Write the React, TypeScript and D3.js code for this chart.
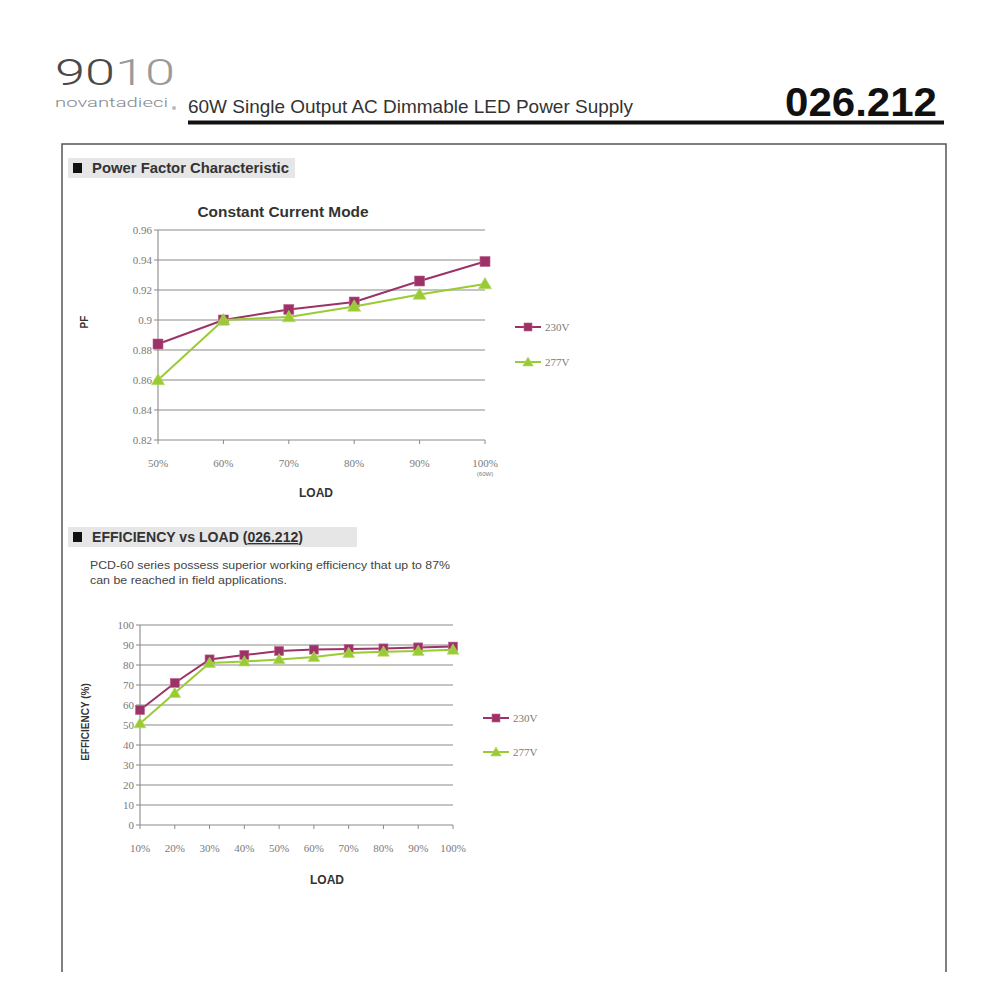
import * as d3 from "d3";

const pfLoads = ["50%", "60%", "70%", "80%", "90%", "100%"];
const pf230 = [0.884, 0.9, 0.907, 0.912, 0.926, 0.939];
const pf277 = [0.86, 0.9, 0.902, 0.909, 0.917, 0.924];
const pfTicks = [0.82, 0.84, 0.86, 0.88, 0.9, 0.92, 0.94, 0.96];

const effLoads = ["10%", "20%", "30%", "40%", "50%", "60%", "70%", "80%", "90%", "100%"];
const eff230 = [57.5, 71, 82.8, 85, 87, 87.7, 88, 88.3, 88.8, 89.2];
const eff277 = [50.8, 66, 81, 81.7, 82.8, 84, 86, 86.6, 87, 87.6];
const effTicks = [0, 10, 20, 30, 40, 50, 60, 70, 80, 90, 100];

const seriesNames = ["230V", "277V"];

const C230 = "#9c3366";
const C277 = "#9acb34";
const GRID = "#8a8a8a";
const TICK_FONT = "'Liberation Serif', 'DejaVu Serif', serif";
const SANS = "'Liberation Sans', Arial, sans-serif";
const LOGO = "Roboto, 'Liberation Sans', sans-serif";

type Box = { x0: number; x1: number; y0: number; y1: number };

const Marker = ({ kind, x, y, size }: { kind: number; x: number; y: number; size: number }) => {
  if (kind === 0) {
    return (
      <rect x={x - size / 2} y={y - size / 2} width={size} height={size} fill={C230} stroke="#c06090" strokeWidth={0.6} />
    );
  }
  const path = d3.symbol(d3.symbolTriangle, size * size * 0.75)();
  return <path d={path || undefined} transform={`translate(${x},${y + 1})`} fill={C277} stroke="#b5dc6a" strokeWidth={0.6} />;
};

type ChartProps = {
  box: Box;
  loads: string[];
  domain: [number, number];
  ticks: number[];
  series: number[][];
  fmt: (v: number) => string;
  markerSize: number;
  legendX: number;
  legendY: number[];
  footnote?: string;
};

const LineChart = ({ box, loads, domain, ticks, series, fmt, markerSize, legendX, legendY, footnote }: ChartProps) => {
  const x = d3.scalePoint<string>().domain(loads).range([box.x0, box.x1]);
  const y = d3.scaleLinear().domain(domain).range([box.y1, box.y0]);
  const line = d3
    .line<number>()
    .x((_, i) => x(loads[i]) ?? 0)
    .y((d) => y(d));
  const colors = [C230, C277];

  return (
    <g>
      {ticks.map((t) => (
        <g key={t}>
          {t !== domain[0] && <line x1={box.x0} x2={box.x1} y1={y(t)} y2={y(t)} stroke={GRID} strokeWidth={1.1} />}
          <line x1={box.x0 - 4} x2={box.x0} y1={y(t)} y2={y(t)} stroke={GRID} strokeWidth={1} />
          <text x={box.x0 - 6} y={y(t) + 3.5} textAnchor="end" fontSize={11} fill="#7a7a7a" fontFamily={TICK_FONT}>
            {fmt(t)}
          </text>
        </g>
      ))}
      <line x1={box.x0} x2={box.x0} y1={box.y0} y2={box.y1} stroke={GRID} strokeWidth={1.1} />
      <line x1={box.x0} x2={box.x1} y1={box.y1} y2={box.y1} stroke={GRID} strokeWidth={1.1} />
      {loads.map((l, i) => (
        <g key={l}>
          <line x1={x(l)} x2={x(l)} y1={box.y1} y2={box.y1 + 4} stroke={GRID} strokeWidth={1} />
          <text x={x(l)} y={box.y1 + 27} textAnchor="middle" fontSize={11} fill="#7a7a7a" fontFamily={TICK_FONT}>
            {l}
          </text>
          {footnote && i === loads.length - 1 && (
            <text x={x(l)} y={box.y1 + 36} textAnchor="middle" fontSize={6} fill="#7a7a7a" fontFamily={SANS}>
              {footnote}
            </text>
          )}
        </g>
      ))}
      {series.map((s, k) => (
        <g key={k}>
          <path d={line(s) || undefined} fill="none" stroke={colors[k]} strokeWidth={2} />
          {s.map((v, i) => (
            <Marker key={i} kind={k} x={x(loads[i]) ?? 0} y={y(v)} size={markerSize} />
          ))}
        </g>
      ))}
      {seriesNames.map((n, k) => (
        <g key={n}>
          <line x1={legendX} x2={legendX + 26} y1={legendY[k]} y2={legendY[k]} stroke={colors[k]} strokeWidth={2} />
          <Marker kind={k} x={legendX + 13} y={legendY[k]} size={8} />
          <text x={legendX + 30} y={legendY[k] + 4} fontSize={11} fill="#7a7a7a" fontFamily={TICK_FONT}>
            {n}
          </text>
        </g>
      ))}
    </g>
  );
};

const SectionHeader = ({ x, y, w, children }: { x: number; y: number; w: number; children: any }) => (
  <g>
    <rect x={x} y={y} width={w} height={20} fill="#e6e6e6" />
    <rect x={x + 5} y={y + 5} width={9} height={10} fill="#111" />
    {children}
  </g>
);

export default function App() {
  return (
    <svg
      width={1000}
      height={1000}
      style={{ position: "absolute", left: 0, top: 0, background: "#fff" }}
      fontFamily={SANS}
    >
      {/* header */}
      <text x={55} y={85} fontSize={37} fontFamily={LOGO} fontWeight={300} textLength={120} lengthAdjust="spacingAndGlyphs">
        <tspan fill="#4a4a4a">90</tspan>
        <tspan fill="#9a9a9a">10</tspan>
      </text>
      <text x={55} y={107} fontSize={13.5} fill="#888" fontFamily={LOGO} fontWeight={300} textLength={113} lengthAdjust="spacingAndGlyphs">
        novantadieci
      </text>
      <circle cx={174} cy={108} r={2} fill="#bbb" />
      <text x={188} y={113} fontSize={19} fill="#333" textLength={445} lengthAdjust="spacingAndGlyphs">
        60W Single Output AC Dimmable LED Power Supply
      </text>
      <rect x={188} y={120.5} width={756} height={4} fill="#111" />
      <text x={785} y={116} fontSize={40} fontWeight="bold" fill="#111" textLength={152} lengthAdjust="spacingAndGlyphs">
        026.212
      </text>

      {/* frame */}
      <path d="M62,972 V144 H946 V972" fill="none" stroke="#555" strokeWidth={1.5} />

      {/* power factor section */}
      <SectionHeader x={68} y={158} w={227}>
        <text x={92} y={173} fontSize={14} fontWeight="bold" fill="#333" textLength={197} lengthAdjust="spacingAndGlyphs">
          Power Factor Characteristic
        </text>
      </SectionHeader>
      <text x={283} y={217} textAnchor="middle" fontSize={14} fontWeight="bold" fill="#333" textLength={171} lengthAdjust="spacingAndGlyphs">
        Constant Current Mode
      </text>
      <text transform="translate(88,322) rotate(-90)" textAnchor="middle" fontSize={10} fontWeight="bold" fill="#333">
        PF
      </text>
      <LineChart
        box={{ x0: 158, x1: 485, y0: 230, y1: 440 }}
        loads={pfLoads}
        domain={[0.82, 0.96]}
        ticks={pfTicks}
        series={[pf230, pf277]}
        fmt={(v) => String(+v.toFixed(2))}
        markerSize={10}
        legendX={515}
        legendY={[327, 362]}
        footnote="(60W)"
      />
      <text x={316} y={497} textAnchor="middle" fontSize={12} fontWeight="bold" fill="#333">
        LOAD
      </text>

      {/* efficiency section */}
      <SectionHeader x={68} y={527} w={289}>
        <text x={92} y={542} fontSize={14} fontWeight="bold" fill="#333" textLength={211} lengthAdjust="spacingAndGlyphs">
          EFFICIENCY vs LOAD (<tspan textDecoration="underline" style={{ textDecoration: "underline" }}>026.212</tspan>)
        </text>
      </SectionHeader>
      <text x={90} y={569} fontSize={11} fill="#444" textLength={360} lengthAdjust="spacingAndGlyphs">
        PCD-60 series possess superior working efficiency that up to 87%
      </text>
      <text x={90} y={584} fontSize={11} fill="#444" textLength={197} lengthAdjust="spacingAndGlyphs">
        can be reached in field applications.
      </text>
      <text transform="translate(89,722) rotate(-90)" textAnchor="middle" fontSize={10} fontWeight="bold" fill="#333">
        EFFICIENCY (%)
      </text>
      <LineChart
        box={{ x0: 140, x1: 453, y0: 625, y1: 825 }}
        loads={effLoads}
        domain={[0, 100]}
        ticks={effTicks}
        series={[eff230, eff277]}
        fmt={(v) => String(v)}
        markerSize={9}
        legendX={483}
        legendY={[718, 752]}
      />
      <text x={327} y={884} textAnchor="middle" fontSize={12} fontWeight="bold" fill="#333">
        LOAD
      </text>
    </svg>
  );
}
